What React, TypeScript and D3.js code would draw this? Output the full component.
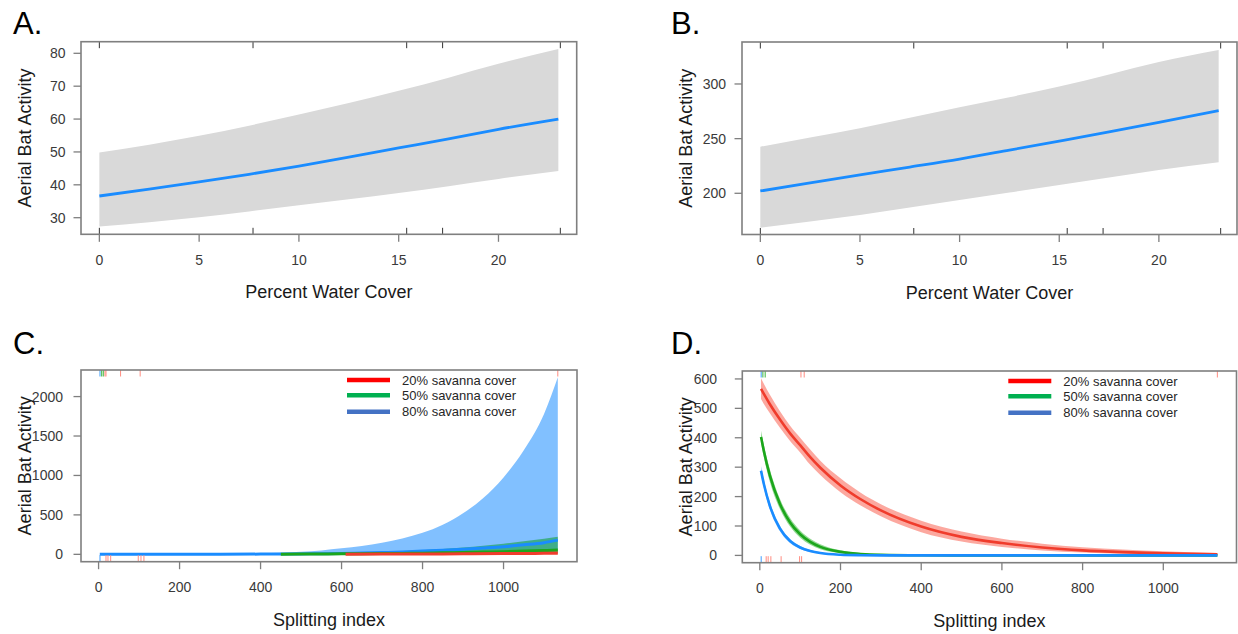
import React from "react";
import * as d3 from "d3";

// ---------- Panel A / B : Percent Water Cover ----------
const waterX = [0, 2.5, 5, 7.5, 10, 12.5, 15, 17.5, 20, 23];
const aFit = [36.6, 38.7, 40.9, 43.2, 45.7, 48.4, 51.2, 54.0, 56.9, 60.0];
const aUpper = [49.8, 52.2, 54.9, 58.0, 61.4, 64.9, 68.6, 72.6, 76.8, 81.3];
const aLower = [27.3, 28.6, 30.1, 31.9, 33.8, 35.6, 37.5, 39.6, 41.8, 44.2];
const bFit = [202.1, 209.5, 216.9, 224.0, 231.3, 239.5, 247.8, 256.2, 264.8, 275.6];
const bUpper = [242.6, 251.0, 259.6, 269.0, 278.6, 287.9, 297.6, 308.6, 320.0, 331.1];
const bLower = [168.5, 174.3, 180.2, 186.9, 193.8, 200.7, 207.6, 214.4, 221.3, 228.4];
const waterRug = [0, 7.7, 15.4, 17.2, 23.1];
const waterXTicks = [0, 5, 10, 15, 20];
const aYTicks = [30, 40, 50, 60, 70, 80];
const bYTicks = [200, 250, 300];

// ---------- Panel C : Splitting index (growth) ----------
const cBlueX = [3, 100, 200, 300, 400, 500, 550, 600, 650, 700, 750, 800, 850, 900, 950, 1000, 1050, 1100, 1134];
const cBlueFit = [0.3, 0.5, 0.8, 1.3, 2.7, 5.5, 8, 11, 16, 22, 30, 41, 52, 64, 79, 96, 120, 148, 180];
const cBlueUpper = [1, 2, 3.5, 6, 13, 32, 50, 76, 106, 147, 200, 272, 375, 520, 715, 975, 1320, 1780, 2244];
const cBlueLower = [0.05, 0.1, 0.15, 0.3, 0.6, 1.1, 1.4, 1.7, 2.3, 3, 4, 5, 6.2, 7.5, 8.5, 9.5, 11, 13, 14.5];
const cGreenX = [450, 500, 600, 700, 750, 800, 850, 900, 950, 1000, 1050, 1100, 1134];
const cGreenFit = [2, 3, 6, 9, 12, 15, 19, 23, 28, 34, 41, 48, 54];
const cGreenUpper = [7, 9, 17, 30, 40, 52, 67, 85, 108, 135, 165, 198, 222];
const cGreenLower = [0.6, 1, 2, 3, 3.8, 4.5, 5.5, 6.5, 7.5, 8.5, 10, 12, 13];
const cRedX = [610, 700, 800, 900, 1000, 1050, 1100, 1134];
const cRedFit = [2, 3, 4.5, 6.5, 9, 11, 13, 15];
const cRedUpper = [6.5, 10, 15, 22, 31, 38, 45, 52];
const cRedLower = [0.6, 0.9, 1.3, 1.9, 2.6, 3.2, 3.8, 4.3];
const cYTicks = [0, 500, 1000, 1500, 2000];

// ---------- Panel D : Splitting index (decay) ----------
const dX = [3, 10, 25, 50, 75, 100, 125, 150, 200, 250, 300, 400, 500, 600, 700, 800, 900, 1000, 1134];
const dRedFit = [566, 549, 514, 462, 415, 375, 334, 298, 238, 191, 153, 98, 63, 42, 27, 17, 11, 7, 3.5];
const dRedUpper = [602, 584, 546, 490, 441, 400, 360, 322, 262, 213, 174, 118, 81, 57, 40, 28, 20, 14, 8];
const dRedLower = [532, 515, 483, 434, 389, 350, 308, 273, 215, 170, 133, 79, 47, 29, 17, 10, 6, 3.5, 1.5];
const dGreenFit = [403, 355, 271, 175, 112, 72, 46, 29, 12, 5, 2, 0.4, 0.1, 0, 0, 0, 0, 0, 0];
const dGreenUpper = [424, 376, 292, 192, 127, 85, 57, 38, 17.5, 8, 3.5, 0.9, 0.2, 0, 0, 0, 0, 0, 0];
const dGreenLower = [382, 334, 250, 158, 98, 60, 36, 21, 8, 3, 1, 0.2, 0, 0, 0, 0, 0, 0, 0];
const dBlueFit = [288, 243, 168, 91, 49, 27, 15, 8, 2.3, 0.7, 0.2, 0, 0, 0, 0, 0, 0, 0, 0];
const dBlueUpper = [303, 257, 180, 100, 56, 32, 18.5, 10.5, 3.3, 1.1, 0.3, 0, 0, 0, 0, 0, 0, 0, 0];
const dBlueLower = [273, 229, 156, 82, 42, 22, 11.5, 6, 1.5, 0.4, 0.1, 0, 0, 0, 0, 0, 0, 0, 0];
const dYTicks = [0, 100, 200, 300, 400, 500, 600];
const splitXTicks = [0, 200, 400, 600, 800, 1000];

// rugs
const cRugTopBlue = [3.5];
const cRugTopGreen = [7.7, 11.6];
const cRugTopRed = [15.8, 18.3, 54.3, 102.7, 1134];
const cRugBotBlue = [3.5];
const cRugBotRed = [18.3, 23.2, 29.9, 98, 104.7, 112];
const dRugTopBlue = [3.4];
const dRugTopGreen = [7.6, 13.3];
const dRugTopRed = [102, 110, 1134];
const dRugBotBlue = [3.4];
const dRugBotRed = [15.8, 20.7, 27.4, 52.8, 98.6, 103.6];

const legendLabels = ["20% savanna cover", "50% savanna cover", "80% savanna cover"];
const legendColors = ["#ff0000", "#00b050", "#4472c4"];

const FONT = "'Liberation Sans', Arial, Helvetica, sans-serif";
const FRAME = "#7f7f7f";

type Box = { l: number; t: number; r: number; b: number };
type Band = { x: number[]; fit: number[]; upper: number[]; lower: number[]; line: string; fill: string; lw: number };
type Rug = { values: number[]; color: string; side: "top" | "bottom" };

type PanelProps = {
  id: string;
  box: Box;
  xDomain: [number, number];
  yDomain: [number, number];
  xTicks: number[];
  yTicks: number[];
  yLabelRight: number;
  bands: Band[];
  rugs: Rug[];
  letter: string;
  letterX: number;
  letterY: number;
  xTitle: string;
  legend?: boolean;
};

function Panel(p: PanelProps) {
  const { box } = p;
  const x = d3.scaleLinear().domain(p.xDomain).range([box.l, box.r]);
  const y = d3.scaleLinear().domain(p.yDomain).range([box.b, box.t]);
  const idx = (arr: number[]) => arr.map((_, i) => i);
  const clipId = `clip-${p.id}`;
  const tick = 7.5;
  const rugLen = 6.5;
  return (
    <g>
      <defs>
        <clipPath id={clipId}>
          <rect x={box.l} y={box.t} width={box.r - box.l} height={box.b - box.t} />
        </clipPath>
      </defs>
      <g clipPath={`url(#${clipId})`}>
        {p.bands.map((bd, k) => {
          const area = d3
            .area<number>()
            .x((i) => x(bd.x[i]))
            .y0((i) => y(bd.lower[i]))
            .y1((i) => y(bd.upper[i]))
            .curve(d3.curveMonotoneX);
          return <path key={"a" + k} d={area(idx(bd.x)) || ""} fill={bd.fill} stroke="none" />;
        })}
        {p.bands.map((bd, k) => {
          const line = d3
            .line<number>()
            .x((i) => x(bd.x[i]))
            .y((i) => y(bd.fit[i]))
            .curve(d3.curveMonotoneX);
          return (
            <path key={"l" + k} d={line(idx(bd.x)) || ""} fill="none" stroke={bd.line} strokeWidth={bd.lw} strokeLinejoin="round" />
          );
        })}
        {p.rugs.map((rg, k) =>
          rg.values.map((v, j) => (
            <line
              key={`r${k}-${j}`}
              x1={x(v)}
              x2={x(v)}
              y1={rg.side === "top" ? box.t : box.b}
              y2={rg.side === "top" ? box.t + rugLen : box.b - rugLen}
              stroke={rg.color}
              strokeWidth={1}
            />
          ))
        )}
      </g>
      <rect x={box.l} y={box.t} width={box.r - box.l} height={box.b - box.t} fill="none" stroke={FRAME} strokeWidth={1.6} />
      {p.xTicks.map((t) => (
        <g key={"xt" + t}>
          <line x1={x(t)} x2={x(t)} y1={box.b} y2={box.b + tick} stroke={FRAME} strokeWidth={1.3} />
          <text x={x(t)} y={box.b + 30.5} textAnchor="middle" fontSize={14} fill="#3a3a3a" fontFamily={FONT}>
            {t}
          </text>
        </g>
      ))}
      {p.yTicks.map((t) => (
        <g key={"yt" + t}>
          <line x1={box.l - tick} x2={box.l} y1={y(t)} y2={y(t)} stroke={FRAME} strokeWidth={1.3} />
          <text x={p.yLabelRight} y={y(t) + 5} textAnchor="end" fontSize={14} fill="#3a3a3a" fontFamily={FONT}>
            {t}
          </text>
        </g>
      ))}
      <text
        x={(box.l + box.r) / 2}
        y={box.b + 64}
        textAnchor="middle"
        fontSize={18}
        fill="#1a1a1a"
        fontFamily={FONT}
      >
        {p.xTitle}
      </text>
      <text
        transform={`translate(${box.l - 50},${(box.t + box.b) / 2}) rotate(-90)`}
        textAnchor="middle"
        fontSize={18}
        fill="#1a1a1a"
        fontFamily={FONT}
      >
        Aerial Bat Activity
      </text>
      <text x={p.letterX} y={p.letterY} fontSize={31} fill="#000" fontFamily={FONT}>
        {p.letter}
      </text>
      {p.legend && (
        <g>
          {legendLabels.map((lab, i) => {
            const ly = [381, 396.3, 412.7][i] + (box.t - 371);
            const lx = box.l + 266;
            return (
              <g key={lab}>
                <line x1={lx} x2={lx + 43} y1={ly} y2={ly} stroke={legendColors[i]} strokeWidth={4.5} />
                <text x={lx + 55} y={ly + 4.6} fontSize={13} fill="#262626" fontFamily={FONT}>
                  {lab}
                </text>
              </g>
            );
          })}
        </g>
      )}
    </g>
  );
}

export default function App() {
  const gray = "#d9d9d9";
  const blueLine = "#1a8cff";
  const redC = "#f03c2c";
  const greenC = "#1ca61c";
  const rugRed = "#ff8c80";
  const rugGreen = "#3cb43c";
  const rugBlue = "#3c9cff";
  return (
    <svg
      width={1238}
      height={634}
      style={{ position: "absolute", left: 0, top: 0, display: "block", background: "#fff" }}
    >
      <rect x={0} y={0} width={1238} height={634} fill="#fff" />
      <Panel
        id="A"
        box={{ l: 81, t: 41.7, r: 576.7, b: 234.3 }}
        xDomain={[-0.92, 23.92]}
        yDomain={[24.95, 83.53]}
        xTicks={waterXTicks}
        yTicks={aYTicks}
        yLabelRight={65.5}
        bands={[{ x: waterX, fit: aFit, upper: aUpper, lower: aLower, line: blueLine, fill: gray, lw: 2.8 }]}
        rugs={[
          { values: waterRug, color: "#333", side: "top" },
          { values: waterRug, color: "#333", side: "bottom" },
        ]}
        letter="A."
        letterX={13}
        letterY={34}
        xTitle="Percent Water Cover"
      />
      <Panel
        id="B"
        box={{ l: 742, t: 42, r: 1237, b: 234.5 }}
        xDomain={[-0.92, 23.92]}
        yDomain={[162.3, 338.4]}
        xTicks={waterXTicks}
        yTicks={bYTicks}
        yLabelRight={726}
        bands={[{ x: waterX, fit: bFit, upper: bUpper, lower: bLower, line: blueLine, fill: gray, lw: 2.8 }]}
        rugs={[
          { values: waterRug, color: "#333", side: "top" },
          { values: waterRug, color: "#333", side: "bottom" },
        ]}
        letter="B."
        letterX={671}
        letterY={34}
        xTitle="Percent Water Cover"
      />
      <Panel
        id="C"
        box={{ l: 81, t: 370, r: 577, b: 561.7 }}
        xDomain={[-43.4, 1181.4]}
        yDomain={[-93.5, 2337]}
        xTicks={splitXTicks}
        yTicks={cYTicks}
        yLabelRight={63}
        bands={[
          { x: cBlueX, fit: cBlueFit, upper: cBlueUpper, lower: cBlueLower, line: blueLine, fill: "rgba(26,140,255,0.55)", lw: 3 },
          { x: cGreenX, fit: cGreenFit, upper: cGreenUpper, lower: cGreenLower, line: greenC, fill: "rgba(20,160,60,0.6)", lw: 3 },
          { x: cRedX, fit: cRedFit, upper: cRedUpper, lower: cRedLower, line: redC, fill: "rgba(250,110,90,0.6)", lw: 3 },
        ]}
        rugs={[
          { values: cRugTopBlue, color: rugBlue, side: "top" },
          { values: cRugTopGreen, color: rugGreen, side: "top" },
          { values: cRugTopRed, color: rugRed, side: "top" },
          { values: cRugBotBlue, color: rugBlue, side: "bottom" },
          { values: cRugBotRed, color: rugRed, side: "bottom" },
        ]}
        letter="C."
        letterX={13}
        letterY={354}
        xTitle="Splitting index"
        legend
      />
      <Panel
        id="D"
        box={{ l: 742.3, t: 371, r: 1236.5, b: 562.7 }}
        xDomain={[-43.4, 1181.4]}
        yDomain={[-24.8, 627]}
        xTicks={splitXTicks}
        yTicks={dYTicks}
        yLabelRight={717}
        bands={[
          { x: dX, fit: dRedFit, upper: dRedUpper, lower: dRedLower, line: redC, fill: "rgba(250,110,95,0.6)", lw: 2.6 },
          { x: dX, fit: dGreenFit, upper: dGreenUpper, lower: dGreenLower, line: greenC, fill: "rgba(40,180,40,0.5)", lw: 2.6 },
          { x: dX, fit: dBlueFit, upper: dBlueUpper, lower: dBlueLower, line: blueLine, fill: "rgba(26,140,255,0.5)", lw: 2.6 },
        ]}
        rugs={[
          { values: dRugTopBlue, color: rugBlue, side: "top" },
          { values: dRugTopGreen, color: rugGreen, side: "top" },
          { values: dRugTopRed, color: rugRed, side: "top" },
          { values: dRugBotBlue, color: rugBlue, side: "bottom" },
          { values: dRugBotRed, color: rugRed, side: "bottom" },
        ]}
        letter="D."
        letterX={671}
        letterY={354}
        xTitle="Splitting index"
        legend
      />
    </svg>
  );
}
